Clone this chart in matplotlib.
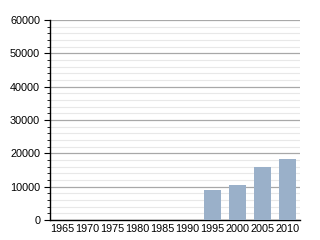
import matplotlib
matplotlib.use("Agg")
import matplotlib.pyplot as plt
from matplotlib.ticker import MultipleLocator

years = ["1965", "1970", "1975", "1980", "1985", "1990", "1995", "2000", "2005", "2010"]
population = [0, 0, 0, 0, 0, 0, 9000, 10500, 15800, 18200]

plt.rcParams["font.family"] = ["Liberation Sans", "DejaVu Sans"]

fig = plt.figure(figsize=(3.2, 2.4), dpi=100)
ax = fig.add_axes([0.156, 0.083, 0.782, 0.834])

x = range(len(years))
ax.bar(x, population, width=0.68, color="#9ab0c9", zorder=3)

ax.set_xlim(-0.5, len(years) - 0.5)
ax.set_ylim(0, 60000)
ax.set_xticks(list(x))
ax.set_xticklabels(years)
ax.yaxis.set_major_locator(MultipleLocator(10000))
ax.yaxis.set_minor_locator(MultipleLocator(2000))
ax.grid(axis="y", which="major", color="#a8a8a8", linewidth=0.9, zorder=1)
ax.grid(axis="y", which="minor", color="#e8e8e8", linewidth=0.8, zorder=0)

for s in ["top", "right"]:
    ax.spines[s].set_visible(False)
ax.spines["left"].set_linewidth(1.0)
ax.spines["bottom"].set_linewidth(1.0)
ax.tick_params(axis="x", length=0, labelsize=7.8, pad=3)
ax.tick_params(axis="y", which="major", length=4, labelsize=7.8, pad=3)
ax.tick_params(axis="y", which="minor", length=2)

fig.savefig("out.png", dpi=100)
